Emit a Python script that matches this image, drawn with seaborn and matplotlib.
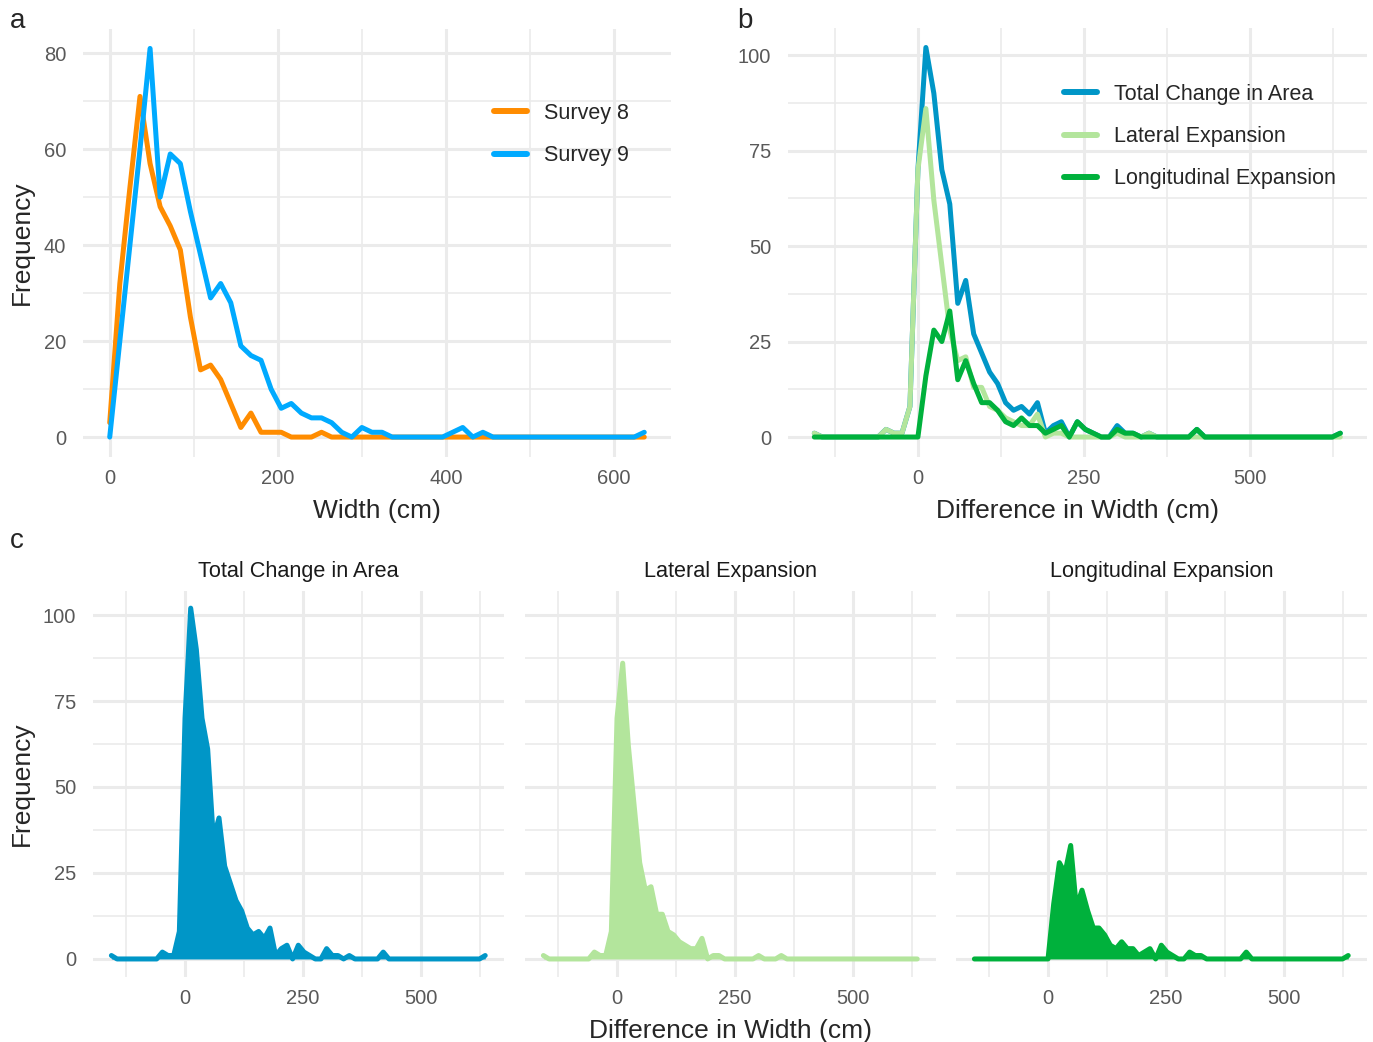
import numpy as np
import pandas as pd
import seaborn as sns
import matplotlib.pyplot as plt
from matplotlib.ticker import FixedLocator

W, H = 1373, 1042

# bin centres (cm), 12 cm bins
width_bins = np.arange(0, 637, 12)
diff_bins = np.arange(-156, 637, 12)

# panel a: counts per width bin
survey8 = [3, 32, 52, 71, 57, 48, 44, 39, 25, 14, 15, 12, 7, 2, 5, 1, 1, 1, 0, 0, 0, 1, 0] + [0] * 31
survey9 = ([0, 20, 40, 60, 81, 50, 59, 57, 47, 38, 29, 32, 28, 19, 17, 16, 10, 6, 7, 5, 4, 4, 3, 1,
            0, 2, 1, 1, 0, 0, 0, 0, 0, 0, 1, 2, 0, 1] + [0] * 15 + [1])

# panel b / c: counts per difference bin
total_change = ([1] + [0] * 8 + [2, 1, 1, 8, 70, 102, 90, 70, 61, 35, 41, 27, 22, 17, 14, 9, 7, 8, 6, 9,
                 1, 3, 4, 0, 4, 2, 1, 0, 0, 3, 1, 1, 0, 1] + [0] * 5 + [2] + [0] * 17 + [1])
lateral = ([1] + [0] * 8 + [2, 1, 1, 8, 70, 86, 62, 45, 28, 20, 21, 13, 13, 8, 7, 5, 4, 3, 3, 6,
            0, 1, 1, 0, 0, 0, 0, 0, 0, 1, 0, 0, 0, 1] + [0] * 24)
longitudinal = ([0] * 14 + [16, 28, 25, 33, 15, 20, 14, 9, 9, 7, 4, 3, 5, 3, 3, 1, 2, 3, 0, 4, 2, 1,
                 0, 0, 2, 1, 1] + [0] * 7 + [2] + [0] * 17 + [1])

survey_labels = ['Survey 8', 'Survey 9']
survey_colors = ['#FF8C00', '#00AAFF']
change_labels = ['Total Change in Area', 'Lateral Expansion', 'Longitudinal Expansion']
change_colors = ['#0096C7', '#B3E59C', '#00B13C']

sns.set_theme(style="white")
plt.rcParams['font.family'] = ['Liberation Sans', 'DejaVu Sans']

fig = plt.figure(figsize=(W / 100, H / 100), dpi=100)


def add_panel(left, top, right, bottom):
    ax = fig.add_axes([left / W, 1 - bottom / H, (right - left) / W, (bottom - top) / H])
    ax.set_facecolor('white')
    for s in ax.spines.values():
        s.set_visible(False)
    ax.set_axisbelow(True)
    return ax


def style_panel(ax, xmaj, xmin, ymaj, ymin, xlim, ylim, ylabels=True):
    ax.xaxis.set_major_locator(FixedLocator(xmaj))
    ax.xaxis.set_minor_locator(FixedLocator(xmin))
    ax.yaxis.set_major_locator(FixedLocator(ymaj))
    ax.yaxis.set_minor_locator(FixedLocator(ymin))
    ax.grid(which='major', color='#EBEBEB', linewidth=2.2)
    ax.grid(which='minor', color='#EBEBEB', linewidth=1.2)
    ax.tick_params(which='both', length=0, labelsize=14.5, labelcolor='#595959')
    ax.tick_params(axis='x', pad=9)
    ax.tick_params(axis='y', pad=12)
    ax.set_xlim(*xlim)
    ax.set_ylim(*ylim)
    ax.set_xlabel('')
    ax.set_ylabel('')
    if not ylabels:
        ax.set_yticklabels([])


def add_legend(ax, x, y):
    leg = ax.legend(loc='upper left', bbox_to_anchor=(x / W, 1 - y / H), bbox_transform=fig.transFigure,
                    frameon=False, fontsize=15.5, handlelength=1.55, handletextpad=0.75, labelspacing=0.98,
                    borderpad=0, borderaxespad=0)
    for ln in leg.get_lines():
        ln.set_linewidth(4.3)


diff_xlim = (-195.6, 675.6)
diff_ylim = (-5.1, 107.1)
diff_xmaj, diff_xmin = [0, 250, 500], [-125, 125, 375, 625]
diff_ymaj, diff_ymin = [0, 25, 50, 75, 100], [12.5, 37.5, 62.5, 87.5]

# ---- panel a
ax_a = add_panel(83, 29, 671, 456.5)
for vals, lab, col in zip([survey8, survey9], survey_labels, survey_colors):
    sns.lineplot(x=width_bins, y=vals, ax=ax_a, color=col, linewidth=3.6, label=lab)
style_panel(ax_a, [0, 200, 400, 600], [100, 300, 500], [0, 20, 40, 60, 80], [10, 30, 50, 70],
            (-31.8, 667.8), (-4.05, 85.05))
add_legend(ax_a, 494, 103)

# ---- panel b
ax_b = add_panel(788, 28, 1366.6, 456.5)
for vals, lab, col in zip([total_change, lateral, longitudinal], change_labels, change_colors):
    sns.lineplot(x=diff_bins, y=vals, ax=ax_b, color=col, linewidth=3.6, label=lab)
style_panel(ax_b, diff_xmaj, diff_xmin, diff_ymaj, diff_ymin, diff_xlim, diff_ylim)
add_legend(ax_b, 1064, 84)

# ---- panel c (facets)
facet_edges = [(92.7, 503.9), (524.7, 935.9), (955.7, 1366.9)]
for i, (vals, lab, col) in enumerate(zip([total_change, lateral, longitudinal], change_labels, change_colors)):
    left, right = facet_edges[i]
    ax = add_panel(left, 590.6, right, 976.5)
    ax.fill_between(diff_bins, 0, vals, color=col, linewidth=0)
    sns.lineplot(x=diff_bins, y=vals, ax=ax, color=col, linewidth=3.6)
    style_panel(ax, diff_xmaj, diff_xmin, diff_ymaj, diff_ymin, diff_xlim, diff_ylim, ylabels=(i == 0))
    fig.text((left + right) / 2 / W, 1 - 577 / H, lab, ha='center', va='baseline', fontsize=15.6, color='#1A1A1A')

# ---- titles and tags
fig.text(377 / W, 1 - 518 / H, 'Width (cm)', ha='center', va='baseline', fontsize=19)
fig.text(1077 / W, 1 - 518 / H, 'Difference in Width (cm)', ha='center', va='baseline', fontsize=19)
fig.text(730 / W, 1 - 1038 / H, 'Difference in Width (cm)', ha='center', va='baseline', fontsize=19)
fig.text(22 / W, 1 - 242.7 / H, 'Frequency', ha='center', va='center', rotation=90, fontsize=19)
fig.text(22 / W, 1 - 783.5 / H, 'Frequency', ha='center', va='center', rotation=90, fontsize=19)
fig.text(10 / W, 1 - 28 / H, 'a', ha='left', va='baseline', fontsize=20)
fig.text(737 / W, 1 - 28 / H, 'b', ha='left', va='baseline', fontsize=20)
fig.text(10 / W, 1 - 548 / H, 'c', ha='left', va='baseline', fontsize=20)

fig.savefig('out.png', dpi=100)
